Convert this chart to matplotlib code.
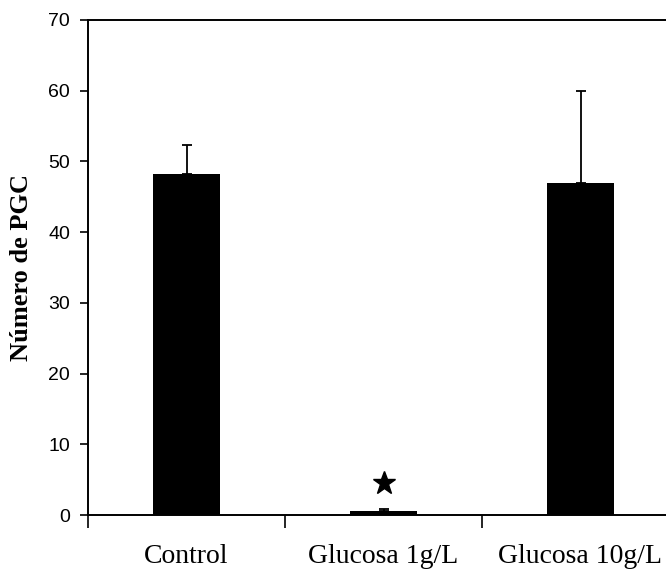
import matplotlib
matplotlib.use("Agg")
import matplotlib.pyplot as plt
import numpy as np

categories = ["Control", "Glucosa 1g/L", "Glucosa 10g/L"]
values = [48.2, 0.5, 47.0]
err_upper = [4.1, 0.4, 13.0]
star_value = 4.5  # significance marker above "Glucosa 1g/L"
star_index = 1
y_ticks = [0, 10, 20, 30, 40, 50, 60, 70]

fig = plt.figure(figsize=(6.66, 5.71), dpi=100)
ax = fig.add_axes([88 / 666, 1 - 515 / 571, 591 / 666, 495 / 571])

x = np.arange(len(categories))
ax.bar(x, values, width=0.345, color="black", zorder=2)
ax.errorbar(x, values, yerr=[np.zeros(len(values)), err_upper], fmt="none",
            ecolor="black", elinewidth=1.3, capsize=3.6, capthick=1.3, zorder=1)
ax.plot([x[star_index]], [star_value], marker="*", color="black",
        markersize=17, linestyle="none")

ax.set_xlim(-0.5, len(categories) - 0.5)
ax.set_ylim(0, 70)
ax.set_yticks(y_ticks)
ax.set_xticks(x)
ax.set_xticklabels(categories, family="Liberation Serif", fontsize=20)
ax.set_xticks(np.arange(-0.5, len(categories), 1.0), minor=True)
ax.tick_params(axis="x", which="major", length=0, pad=21)
ax.tick_params(axis="x", which="minor", length=9, width=1.2, direction="out")
ax.tick_params(axis="y", length=6, width=1.2, direction="out", pad=7)
for lab in ax.get_yticklabels():
    lab.set_family("Liberation Sans")
    lab.set_fontsize(14)

ax.set_ylabel("Número de PGC", family="Liberation Serif", fontweight="bold",
              fontsize=19)
ax.yaxis.set_label_coords(-(88 - 33) / 591, 0.5)

for side in ["left", "bottom", "top"]:
    ax.spines[side].set_linewidth(1.4)
ax.spines["right"].set_visible(False)

fig.savefig("out.png", dpi=100)
